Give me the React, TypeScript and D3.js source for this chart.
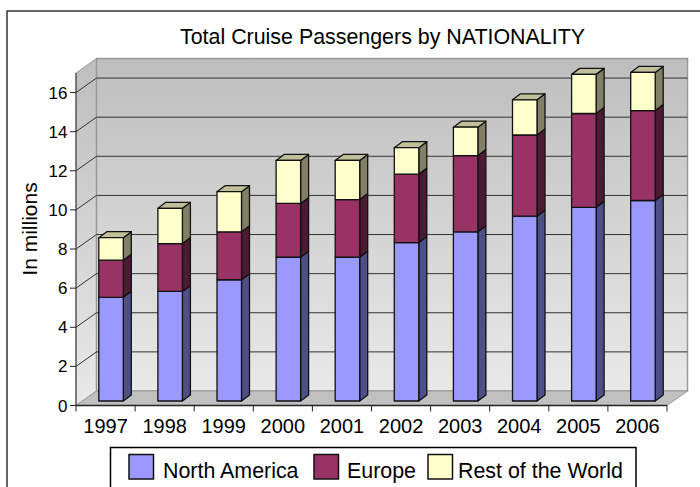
import React from "react";
import * as d3 from "d3";

const years = ["1997", "1998", "1999", "2000", "2001", "2002", "2003", "2004", "2005", "2006"];
const northAmerica = [5.3, 5.6, 6.2, 7.35, 7.35, 8.1, 8.65, 9.45, 9.9, 10.25];
const europe = [1.9, 2.45, 2.45, 2.75, 2.95, 3.5, 3.9, 4.15, 4.8, 4.6];
const restOfWorld = [1.15, 1.8, 2.05, 2.2, 2.0, 1.35, 1.45, 1.8, 2.0, 1.95];
const seriesNames = ["North America", "Europe", "Rest of the World"];
const yTicks = [0, 2, 4, 6, 8, 10, 12, 14, 16];

const fills = ["#9999ff", "#993366", "#ffffcc"];
const sides = ["#4f4f88", "#4d1a33", "#808066"];
const topFill = "#bfbf99";

const font = "'Liberation Sans', Arial, sans-serif";

// plot box, front edge of the 3D wall
const left = 76;
const right = 667;
const bottom = 405.5;
const top = 73;
const wallDx = 20.5;
const wallDy = -14.5;
const barDx = 8;
const barDy = -6;

const rows = years.map((year, i) => ({
    year,
    [seriesNames[0]]: northAmerica[i],
    [seriesNames[1]]: europe[i],
    [seriesNames[2]]: restOfWorld[i],
}));

export default function App() {
    const x = d3.scaleBand<string>().domain(years).range([left, right]);
    const y = d3.scaleLinear().domain([0, 17]).range([bottom, top]);
    const stacked = d3.stack<any>().keys(seriesNames)(rows);

    const barX = (year: string) => (x(year) as number) + 22.8;
    const barW = 24.5;
    const barLift = -4.5; // bars stand a bit behind the front edge

    const legend = [
        { swatch: 129, label: 163 },
        { swatch: 314, label: 347 },
        { swatch: 428, label: 458 },
    ];

    return (
        <svg
            width={700}
            height={487}
            viewBox="0 0 700 487"
            style={{ position: "absolute", left: 0, top: 0, background: "#fff" }}
        >
            <defs>
                <linearGradient id="wall" x1="0" y1="0" x2="0" y2="1">
                    <stop offset="0%" stopColor="#bebebe" />
                    <stop offset="100%" stopColor="#e9e9e9" />
                </linearGradient>
            </defs>

            <rect x={7} y={11} width={720} height={500} fill="#fff" stroke="#333" strokeWidth={1.5} />

            <text x={382.5} y={44} textAnchor="middle" fontFamily={font} fontSize={21.4} fill="#000">
                Total Cruise Passengers by NATIONALITY
            </text>

            {/* side wall, back wall, floor */}
            <polygon
                points={`${left},${bottom} ${left},${top} ${left + wallDx},${top + wallDy} ${left + wallDx},${bottom + wallDy}`}
                fill="url(#wall)"
                stroke="#999"
                strokeWidth={1}
            />
            <rect
                x={left + wallDx}
                y={top + wallDy}
                width={right - left}
                height={bottom - top}
                fill="url(#wall)"
                stroke="#999"
                strokeWidth={1.5}
            />
            <polygon
                points={`${left},${bottom} ${right},${bottom} ${right + wallDx},${bottom + wallDy} ${left + wallDx},${bottom + wallDy}`}
                fill="#c0c0c0"
                stroke="#999"
                strokeWidth={1}
            />

            {/* gridlines */}
            {yTicks.slice(1).map((t) => (
                <g key={t} fill="none" stroke="#333" strokeWidth={1}>
                    <line x1={left} y1={y(t)} x2={left + wallDx} y2={y(t) + wallDy} />
                    <line x1={left + wallDx} y1={y(t) + wallDy} x2={right + wallDx} y2={y(t) + wallDy} />
                </g>
            ))}

            {/* stacked bars */}
            {years.map((year, i) => (
                <g key={year} stroke="#111" strokeWidth={1.3} strokeLinejoin="round">
                    {stacked.map((s, k) => {
                        const x0 = barX(year);
                        const x1 = x0 + barW;
                        const yTop = y(s[i][1]) + barLift;
                        const yBase = y(s[i][0]) + barLift;
                        return (
                            <g key={s.key}>
                                <polygon
                                    points={`${x1},${yBase} ${x1 + barDx},${yBase + barDy} ${x1 + barDx},${yTop + barDy} ${x1},${yTop}`}
                                    fill={sides[k]}
                                />
                                {k === stacked.length - 1 && (
                                    <polygon
                                        points={`${x0},${yTop} ${x0 + barDx},${yTop + barDy} ${x1 + barDx},${yTop + barDy} ${x1},${yTop}`}
                                        fill={topFill}
                                    />
                                )}
                                <rect x={x0} y={yTop} width={barW} height={yBase - yTop} fill={fills[k]} />
                            </g>
                        );
                    })}
                </g>
            ))}

            {/* y axis */}
            <line x1={left} y1={top} x2={left} y2={bottom} stroke="#333" strokeWidth={1} />
            {yTicks.map((t) => (
                <g key={t}>
                    <line x1={left - 6} y1={y(t)} x2={left} y2={y(t)} stroke="#222" />
                    <text
                        x={left - 8.5}
                        y={y(t) + 6}
                        textAnchor="end"
                        fontFamily={font}
                        fontSize={17}
                        fill="#000"
                    >
                        {t}
                    </text>
                </g>
            ))}

            {/* x axis */}
            <line x1={left} y1={bottom} x2={right} y2={bottom} stroke="#222" strokeWidth={1.3} />
            {years.map((year) => (
                <g key={year}>
                    <line
                        x1={x(year) as number}
                        y1={bottom}
                        x2={x(year) as number}
                        y2={bottom + 6}
                        stroke="#222"
                    />
                    <text
                        x={(x(year) as number) + x.bandwidth() / 2}
                        y={432.5}
                        textAnchor="middle"
                        fontFamily={font}
                        fontSize={20}
                        fill="#000"
                    >
                        {year}
                    </text>
                </g>
            ))}
            <line x1={right} y1={bottom} x2={right} y2={bottom + 6} stroke="#222" />

            <text
                transform="translate(37,229) rotate(-90)"
                textAnchor="middle"
                fontFamily={font}
                fontSize={21}
                fill="#000"
            >
                In millions
            </text>

            {/* legend */}
            <rect x={110.5} y={447.5} width={525.5} height={60} fill="#fff" stroke="#000" strokeWidth={1.5} />
            {seriesNames.map((name, k) => (
                <g key={name}>
                    <rect
                        x={legend[k].swatch}
                        y={454.5}
                        width={24.5}
                        height={24.5}
                        fill={fills[k]}
                        stroke="#111"
                        strokeWidth={1.5}
                    />
                    <text x={legend[k].label} y={478} fontFamily={font} fontSize={21.4} fill="#000">
                        {name}
                    </text>
                </g>
            ))}
        </svg>
    );
}
